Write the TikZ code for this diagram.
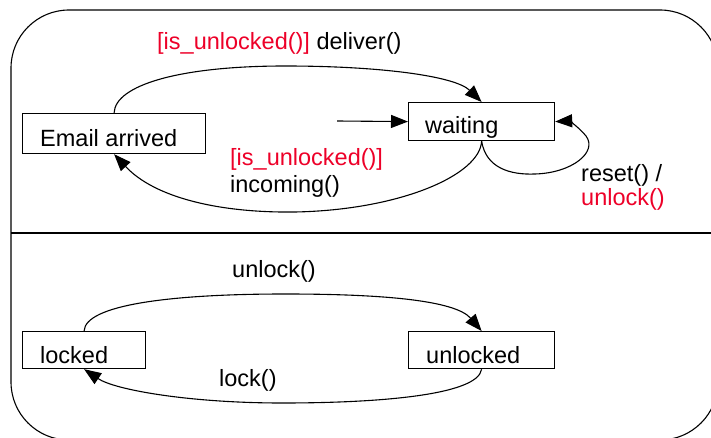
\documentclass[tikz,border=0pt]{standalone}
\usepackage{fontspec}
\setmainfont{Liberation Sans}
\usetikzlibrary{arrows.meta}
\definecolor{guardred}{RGB}{237,0,40}
\begin{document}
\begin{tikzpicture}[x=1pt,y=-1pt,
  every node/.style={font=\fontsize{23.5}{28}\selectfont},
  statebox/.style={draw, line width=1.2pt, inner sep=0pt, anchor=north west},
  txt/.style={inner sep=0pt, anchor=base west},
  arr/.style={-{Triangle[length=17pt,width=13pt]}, line width=1.1pt},
  frame/.style={line width=1.1pt}]
\useasboundingbox (0,0) rectangle (711,438);
\clip (0,0) rectangle (711,438);
% outer state with two regions
\draw[frame, rounded corners=58pt] (11,10) rectangle (718,440);
\draw[frame] (11,233) -- (718,233);
% states
\node[statebox, minimum width=183pt, minimum height=40pt] (email) at (22,113) {};
\node[txt] (emailtxt) at (40,147) {Email arrived};
\node[statebox, minimum width=146pt, minimum height=38pt] (waiting) at (408,102) {};
\node[txt] (waitingtxt) at (425,134) {waiting};
\node[statebox, minimum width=123pt, minimum height=37pt] (locked) at (22,331) {};
\node[txt] (lockedtxt) at (40,363) {locked};
\node[statebox, minimum width=146pt, minimum height=37pt] (unlocked) at (408,331) {};
\node[txt] (unlockedtxt) at (426,363) {unlocked};
\coordinate (init) at (337,121);
% transitions
\draw[arr] (email.north) .. controls (115,85) and (180,66) .. (285,66)
  .. controls (380,66) and (455,76) .. (waiting.north);
\draw[arr] (waiting.south) .. controls (480,175) and (400,210) .. (295,212)
  .. controls (220,213) and (155,198) .. (email.south);
\draw[arr] (init) -- (waiting.west);
\draw[arr] (waiting.south) .. controls (486,168) and (510,175) .. (535,174)
  .. controls (572,173) and (598,152) .. (586,136)
  .. controls (578,126) and (568,121) .. (waiting.east);
\draw[arr] (locked.north) .. controls (85,305) and (170,294) .. (285,294)
  .. controls (380,294) and (455,300) .. (unlocked.north);
\draw[arr] (unlocked.south) .. controls (478,395) and (380,403) .. (282,403)
  .. controls (190,403) and (115,390) .. (locked.south);
% labels
\node[txt] (lbldeliver) at (157,50) {\textcolor{guardred}{[is\_unlocked()]} deliver()};
\node[txt, text=guardred] (lblguard) at (230,166) {[is\_unlocked()]};
\node[txt] (lblincoming) at (230,193) {incoming()};
\node[txt] (lblreset) at (581,182) {reset() /};
\node[txt, text=guardred] (lblunlockred) at (581,206) {unlock()};
\node[txt] (lblunlock) at (232,277) {unlock()};
\node[txt] (lbllock) at (219,386) {lock()};
\end{tikzpicture}
\end{document}
